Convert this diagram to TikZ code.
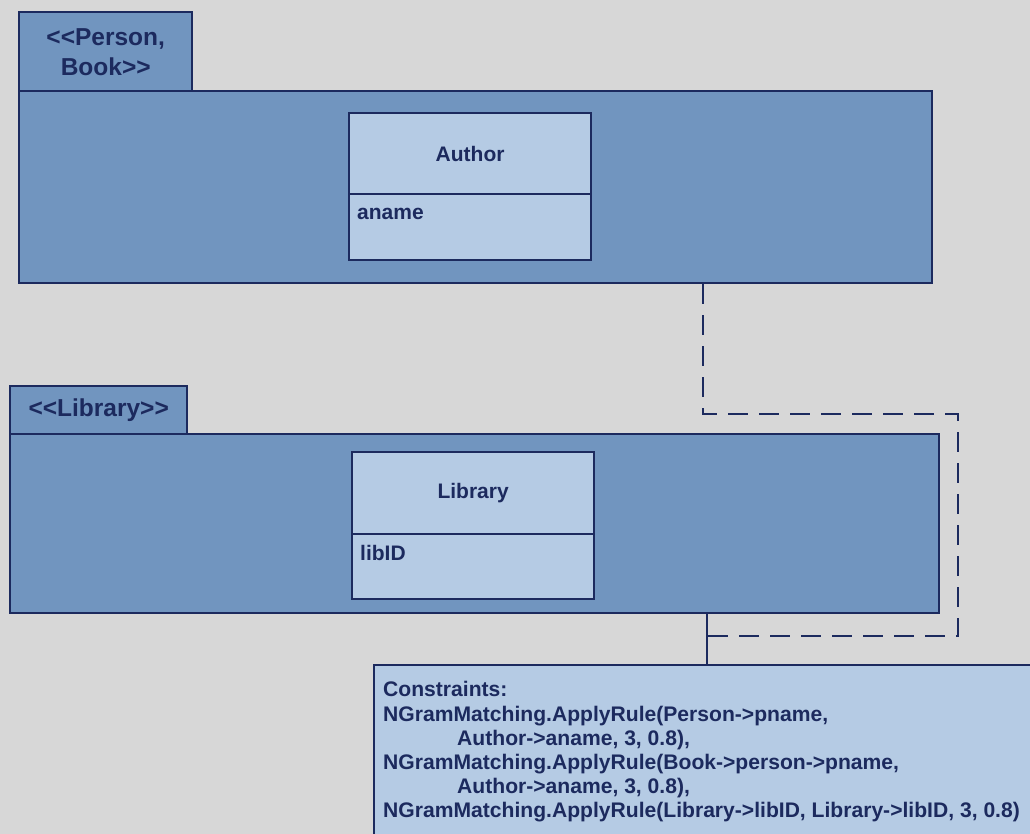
\documentclass[tikz,border=0pt]{standalone}
\usepackage{fontspec}
\setmainfont{Liberation Sans}
\definecolor{bggray}{HTML}{D7D7D7}
\definecolor{pkgblue}{HTML}{7195BF}
\definecolor{clsblue}{HTML}{B5CBE4}
\definecolor{ink}{HTML}{1C2A5E}
% kerns keep << and >> from being turned into guillemets
\newcommand{\ltlt}{<\kern0pt<}
\newcommand{\gtgt}{>\kern0pt>}
\begin{document}
\begin{tikzpicture}[x=1pt,y=-1pt,
  pkgbox/.style={draw=ink, fill=pkgblue, line width=2.4pt, inner sep=0pt,
    rectangle, anchor=north west, text=ink,
    font=\fontsize{24.5}{30}\selectfont\bfseries, align=center},
  clsbox/.style={draw=ink, fill=clsblue, line width=2.2pt, inner sep=0pt,
    rectangle, anchor=north west, minimum width=242, text=ink,
    font=\fontsize{21}{25}\selectfont\bfseries},
  attrtext/.style={anchor=base west, inner sep=0pt, text=ink,
    font=\fontsize{21}{25}\selectfont\bfseries},
  notebox/.style={draw=ink, fill=clsblue, line width=2.2pt, inner sep=0pt,
    rectangle, anchor=north west},
  notetext/.style={anchor=north west, inner sep=0pt, text=ink, align=left,
    font=\bfseries\fontsize{21.1}{24.1}\selectfont},
  link/.style={draw=ink, line width=2.2pt},
  dashlink/.style={link, dash pattern=on 20pt off 11pt}]
\useasboundingbox (0,0) rectangle (1030,834);
\clip (0,0) rectangle (1030,834);
\fill[bggray] (0,0) rectangle (1030,834);

% package <<Person, Book>>
\node[pkgbox, minimum width=173, minimum height=79] (tabA) at (18,11) {\ltlt Person,\\Book\gtgt};
\node[pkgbox, minimum width=913, minimum height=192] (pkgA) at (18,90) {};
\node[clsbox, minimum height=81] (authorHead) at (348,112) {Author};
\node[clsbox, minimum height=66] (authorAttr) at (348,193) {};
\node[attrtext] (aname) at ([xshift=9pt,yshift=-27pt]authorAttr.north west) {aname};

% package <<Library>>
\node[pkgbox, minimum width=177, minimum height=48] (tabL) at (9,385) {\ltlt Library\gtgt};
\node[pkgbox, minimum width=929, minimum height=179] (pkgL) at (9,433) {};
\node[clsbox, minimum height=82] (libHead) at (351,451) {Library};
\node[clsbox, minimum height=65] (libAttr) at (351,533) {};
\node[attrtext] (libID) at ([xshift=9pt,yshift=-27pt]libAttr.north west) {libID};

% constraint note
\node[notebox, minimum width=700, minimum height=200] (note) at (373,664) {};
\node[notetext] (noteText) at (383,681.5) {Constraints:\\
NGramMatching.ApplyRule(Person->pname,\\
\hspace*{74pt}Author->aname, 3, 0.8),\\
NGramMatching.ApplyRule(Book->person->pname,\\
\hspace*{74pt}Author->aname, 3, 0.8),\\
NGramMatching.ApplyRule(Library->libID, Library->libID, 3, 0.8)};

% note attachments
\coordinate (bendA) at (703,414);
\coordinate (bendB) at (958,414);
\coordinate (bendC) at (958,636);
\coordinate (join) at (707,636);
\draw[dashlink] (pkgA.south -| bendA) -- (bendA) -- (bendB) -- (bendC) -- (join);
\draw[link] (pkgL.south -| join) -- (note.north -| join);
\end{tikzpicture}
\end{document}
